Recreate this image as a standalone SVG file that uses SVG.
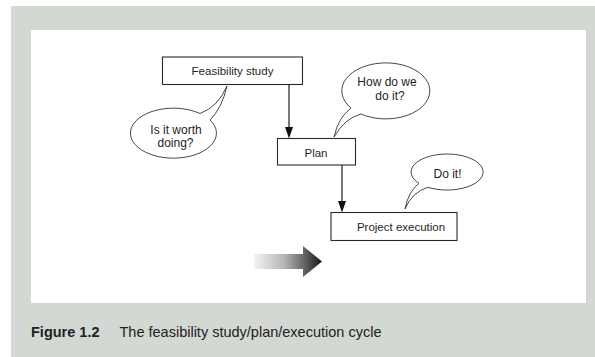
<svg xmlns="http://www.w3.org/2000/svg" width="595" height="357" viewBox="0 0 595 357">
  <style>
    .box { fill: #ffffff; stroke: #2a2a2a; stroke-width: 1.1; }
    .bubble { fill: #ffffff; stroke: #333333; stroke-width: 0.9; }
    .label { font-family: "Liberation Sans", Arial, sans-serif; font-size: 11.5px; fill: #1e1e1e; text-anchor: middle; }
    .say { font-family: "Liberation Sans", Arial, sans-serif; font-size: 12px; fill: #1e1e1e; text-anchor: middle; }
    .link { stroke: #1e1e1e; stroke-width: 1.2; fill: none; }
    .head { fill: #111111; }
    .cap { font-family: "Liberation Sans", Arial, sans-serif; font-size: 14.5px; fill: #222222; }
  </style>
  <defs>
    <linearGradient id="flow" gradientUnits="userSpaceOnUse" x1="254" y1="0" x2="322" y2="0">
      <stop offset="0" stop-color="#f4f4f4"/>
      <stop offset="0.45" stop-color="#b4b4b4"/>
      <stop offset="0.72" stop-color="#6a6a6a"/>
      <stop offset="1" stop-color="#151515"/>
    </linearGradient>
  </defs>

  <!-- panel -->
  <rect x="0" y="0" width="595" height="357" fill="#ffffff"/>
  <rect x="11" y="6" width="584" height="351" fill="#d3d8d3"/>
  <rect x="31" y="30" width="555" height="273" fill="#ffffff"/>

  <!-- connectors -->
  <g id="connectors">
    <line class="link" x1="289" y1="85" x2="289" y2="129"/>
    <polygon class="head" points="285,127 293,127 289,138.5"/>
    <line class="link" x1="342" y1="165" x2="342" y2="203"/>
    <polygon class="head" points="338,201 346,201 342,212.5"/>
  </g>

  <!-- process steps -->
  <g id="feasibility">
    <rect class="box" x="162.5" y="57" width="140" height="27.5"/>
    <text class="label" x="232.5" y="74.5">Feasibility study</text>
  </g>
  <g id="plan">
    <rect class="box" x="277.5" y="138.5" width="78" height="26.5"/>
    <text class="label" x="316" y="156.5">Plan</text>
  </g>
  <g id="execution">
    <rect class="box" x="331" y="212.5" width="126" height="28"/>
    <text class="label" x="401" y="230.5">Project execution</text>
  </g>

  <!-- speech bubbles -->
  <g id="bubble-worth">
    <path class="bubble" d="M200 113.5 Q218 107 227 86 Q222 108 210 120 A43 25 0 1 1 200 113.5 Z"/>
    <text class="say" x="176" y="134">Is it worth</text>
    <text class="say" x="175.5" y="147">doing?</text>
  </g>
  <g id="bubble-how">
    <path class="bubble" d="M361 114 Q345 118 334 137 Q338 118 351 108 A44 28 0 1 1 361 114 Z"/>
    <text class="say" x="387" y="86">How do we</text>
    <text class="say" x="390" y="100">do it?</text>
  </g>
  <g id="bubble-do">
    <path class="bubble" d="M428 187.3 Q412 192 405 209 Q408 192 419 183.3 A36 18 0 1 1 428 187.3 Z"/>
    <text class="say" x="447.5" y="177.5">Do it!</text>
  </g>

  <!-- direction arrow -->
  <g id="flow-arrow">
    <polygon points="254,254 303,254 303,246 322,261.5 303,277 303,269 254,269" fill="url(#flow)"/>
  </g>

  <!-- caption -->
  <g id="caption">
    <text class="cap" x="31" y="336.5" font-weight="bold">Figure 1.2</text>
    <text class="cap" x="119.5" y="336.5">The feasibility study/plan/execution cycle</text>
  </g>
</svg>
